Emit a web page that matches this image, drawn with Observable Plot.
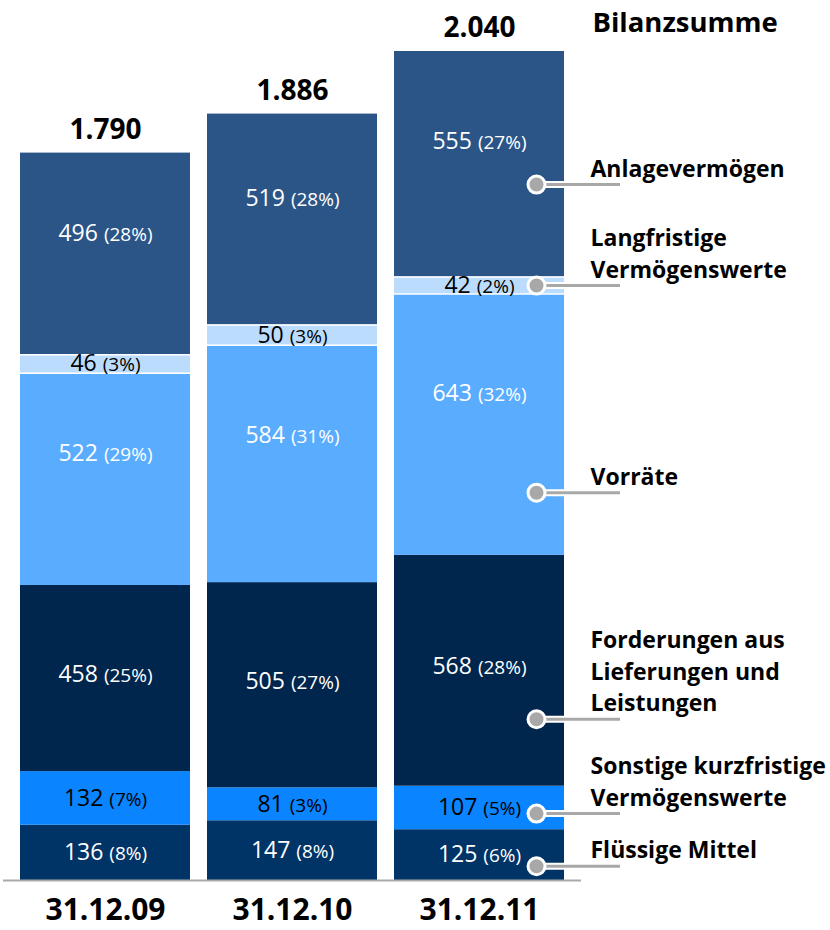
<!DOCTYPE html>
<html><head><meta charset="utf-8">
<script src="https://cdn.jsdelivr.net/npm/d3@7"></script>
<script src="https://cdn.jsdelivr.net/npm/@observablehq/plot@0.6"></script>
<style>body{margin:0;background:#fff;font-family:"Open Sans",sans-serif}</style>
</head><body><div id="chart"></div>
<script>
// Categories (balance sheet dates)
const dates = ["31.12.09", "31.12.10", "31.12.11"];
// Series, bottom to top
const series = ["Flüssige Mittel", "Sonstige kurzfristige Vermögenswerte", "Forderungen aus Lieferungen und Leistungen", "Vorräte", "Langfristige Vermögenswerte", "Anlagevermögen"];
const seriesLabels = ["Flüssige Mittel", "Sonstige kurzfristige\nVermögenswerte", "Forderungen aus\nLieferungen und\nLeistungen", "Vorräte", "Langfristige\nVermögenswerte", "Anlagevermögen"];
// Values (Mio.)
const fluessigeMittel = [136, 147, 125];
const sonstigeKurzfristige = [132, 81, 107];
const forderungen = [458, 505, 568];
const vorraete = [522, 584, 643];
const langfristige = [46, 50, 42];
const anlagevermoegen = [496, 519, 555];
// Percent labels as printed
const pctFluessige = [8, 8, 6];
const pctSonstige = [7, 3, 5];
const pctForderungen = [25, 27, 28];
const pctVorraete = [29, 31, 32];
const pctLangfristige = [3, 3, 2];
const pctAnlage = [28, 28, 27];
const headerLabel = "Bilanzsumme";

const valueArrays = [fluessigeMittel, sonstigeKurzfristige, forderungen, vorraete, langfristige, anlagevermoegen];
const pctArrays = [pctFluessige, pctSonstige, pctForderungen, pctVorraete, pctLangfristige, pctAnlage];
const colors = ["#003366", "#0a84ff", "#00264d", "#5aacff", "#bcdcfd", "#2c5587"];
const darkText = new Set([series[1], series[4]]);
// relative placement within each segment (fraction from top)
const labelFrac = [0.5, 0.5, 0.48, 0.38, 0.5, 0.4];
const markerFrac = [0.72, 0.63, 0.71, 0.76, 0.5, 0.59];

const rows = [];
dates.forEach((date, i) => {
  let base = 0;
  series.forEach((s, k) => {
    const v = valueArrays[k][i];
    rows.push({
      date, series: s, label: seriesLabels[k], value: v, pct: pctArrays[k][i],
      y1: base, y2: base + v,
      ly: base + v * (1 - labelFrac[k]),
      my: base + v * (1 - markerFrac[k])
    });
    base += v;
  });
});
const totals = dates.map((d, i) => ({date: d, total: d3.sum(valueArrays, a => a[i])}));
const fmt = n => d3.format(",")(n).replace(/,/g, ".");
const last = rows.filter(d => d.date === dates[dates.length - 1]);
const lastTotal = totals[totals.length - 1];

const chart = Plot.plot({
  width: 830,
  height: 930,
  marginLeft: 3,
  marginRight: 249,
  marginTop: 51,
  marginBottom: 50,
  style: {fontFamily: "'Open Sans', sans-serif", background: "white", overflow: "visible"},
  x: {domain: dates, padding: 0.0909, axis: null},
  y: {domain: [0, d3.max(totals, d => d.total)], axis: null},
  color: {domain: series, range: colors},
  marks: [
    Plot.rectY(rows, {x: "date", y1: "y1", y2: "y2", fill: "series"}),
    Plot.ruleY(rows.filter(d => d.series === series[4]), {y: "y1", x1: "date", x2: "date", stroke: "white", strokeWidth: 1.5}),
    Plot.ruleY(rows.filter(d => d.series === series[4]), {y: "y2", x1: "date", x2: "date", stroke: "white", strokeWidth: 1.5}),
    Plot.ruleY([0], {stroke: "#a9a9a9", strokeWidth: 2}),
    Plot.text(rows.filter(d => !darkText.has(d.series)), {x: "date", y: "ly", text: d => `${d.value}|(${d.pct}%)`, fill: "white", fontSize: 23}),
    Plot.text(rows.filter(d => darkText.has(d.series)), {x: "date", y: "ly", text: d => `${d.value}|(${d.pct}%)`, fill: "black", fontSize: 23}),
    Plot.text(totals, {x: "date", y: "total", text: d => fmt(d.total), dy: -23, fontSize: 28, fontWeight: "bold", fill: "black"}),
    Plot.text(dates, {x: d => d, y: () => 0, text: d => d, dy: 30, fontSize: 30, fontWeight: "bold", fill: "black"}),
    Plot.text([lastTotal], {x: "date", y: "total", text: () => headerLabel, dx: 113, dy: -28, textAnchor: "start", fontSize: 27.5, fontWeight: "bold", fill: "black"}),
    // annotation connectors
    Plot.ruleY(last, {y: "my", x1: "date", x2: "date", insetLeft: 142, insetRight: -56, stroke: "white", strokeWidth: 7}),
    Plot.ruleY(last, {y: "my", x1: "date", x2: "date", insetLeft: 142, insetRight: -56, stroke: "#a8a8a8", strokeWidth: 3}),
    Plot.dot(last, {x: "date", y: "my", dx: 57, r: 8.5, fill: "#a8a8a8", stroke: "white", strokeWidth: 3}),
    Plot.text(last, {x: "date", y: "my", text: "label", dx: 111, dy: -8, textAnchor: "start", lineAnchor: "bottom", lineHeight: 1.38, fontSize: 23, fontWeight: "bold", fill: "black"})
  ]
});

// split value and percentage into two sizes
d3.select(chart).selectAll("text").each(function() {
  const t = d3.select(this);
  const s = t.text();
  if (!s.includes("|") || t.selectAll("tspan").size() > 0) return;
  const [v, p] = s.split("|");
  t.text(null);
  t.append("tspan").attr("font-size", 23).text(v + " ");
  t.append("tspan").attr("font-size", 19).text(p);
});

document.getElementById("chart").appendChild(chart);
</script>
</body></html>
